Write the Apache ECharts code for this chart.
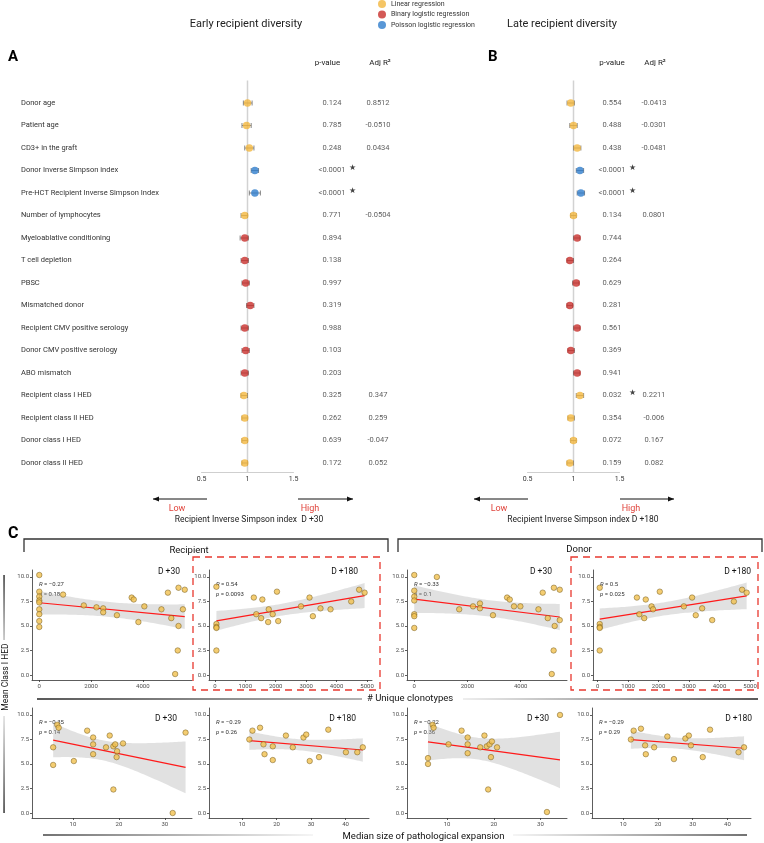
<!DOCTYPE html>
<html><head><meta charset="utf-8">
<script src="https://cdn.jsdelivr.net/npm/echarts@6/dist/echarts.min.js"></script>
<style>html,body{margin:0;padding:0;background:#fff}#c{width:764px;height:843px}</style>
</head><body><div id="c"></div>
<script>
// ---------------- DATA ----------------
const rowLabels = ['Donor age','Patient age','CD3+ in the graft','Donor Inverse Simpson index','Pre-HCT Recipient Inverse Simpson Index','Number of lymphocytes','Myeloablative conditioning','T cell depletion','PBSC','Mismatched donor','Recipient CMV positive serology','Donor CMV positive serology','ABO mismatch','Recipient class I HED','Recipient class II HED','Donor class I HED','Donor class II HED'];
const regressionNames = ['Linear regression','Binary logistic regression','Poisson logistic regression'];
const rowType = [0,0,0,2,2,0,1,1,1,1,1,1,1,0,0,0,0];

const earlyEst = [1.00,0.99,1.02,1.08,1.08,0.97,0.97,0.97,0.98,1.03,0.97,0.98,0.97,0.96,0.97,0.97,0.97];
const earlyLo  = [0.955,0.94,0.97,1.04,1.02,0.93,0.92,0.93,0.94,0.99,0.93,0.94,0.93,0.93,0.94,0.94,0.94];
const earlyHi  = [1.05,1.04,1.07,1.12,1.14,1.00,1.01,1.01,1.02,1.07,1.01,1.02,1.01,1.00,1.00,1.00,1.00];
const earlyP   = ['0.124','0.785','0.248','<0.0001','<0.0001','0.771','0.894','0.138','0.997','0.319','0.988','0.103','0.203','0.325','0.262','0.639','0.172'];
const earlyAdjR2 = ['0.8512','-0.0510','0.0434','','','-0.0504','','','','','','','','0.347','0.259','-0.047','0.052'];
const earlySig = [3,4];

const lateEst = [0.97,1.00,1.04,1.07,1.08,1.00,1.04,0.96,1.03,0.96,1.04,0.97,1.04,1.07,0.97,1.00,0.96];
const lateLo  = [0.93,0.96,1.00,1.03,1.04,0.97,1.00,0.93,0.99,0.93,1.00,0.94,1.00,1.03,0.94,0.97,0.93];
const lateHi  = [1.01,1.04,1.08,1.11,1.12,1.03,1.07,1.00,1.06,0.99,1.07,1.01,1.07,1.11,1.01,1.03,1.00];
const lateP   = ['0.554','0.488','0.438','<0.0001','<0.0001','0.134','0.744','0.264','0.629','0.281','0.561','0.369','0.941','0.032','0.354','0.072','0.159'];
const lateAdjR2 = ['-0.0413','-0.0301','-0.0481','','','0.0801','','','','','','','','0.2211','-0.006','0.167','0.082'];
const lateSig = [3,4,13];

const forestTicks = [0.5, 1, 1.5];

// Panel C scatter data: [x, mean class I HED]
const recipD30Clono = [[0,10.2],[0,8.5],[0,8.0],[0,7.6],[0,7.4],[0,6.7],[0,6.2],[0,5.5],[0,4.9],[920,8.2],[1720,7.1],[2210,6.9],[2470,6.8],[2470,6.4],[3000,6.1],[3570,7.9],[3650,7.7],[3830,5.4],[4060,7.0],[4720,6.7],[4970,8.4],[5100,5.8],[5380,5.0],[5380,8.9],[5620,8.7],[5550,6.7],[5350,2.5],[5250,0.1]];
const recipD180Clono = [[50,9.0],[50,5.2],[50,4.9],[50,4.8],[50,2.5],[1280,7.9],[1360,6.2],[1560,7.7],[1520,5.8],[1770,6.7],[1750,5.4],[1900,6.2],[2040,8.5],[2080,5.5],[2830,7.0],[3110,7.9],[3220,6.0],[3470,6.8],[3800,6.7],[4480,7.5],[4740,8.7],[4920,8.4]];
const donorD30Clono = [[0,10.2],[0,8.6],[0,8.0],[0,7.6],[0,6.2],[0,6.0],[0,4.8],[850,10.0],[1690,6.7],[2210,7.0],[2470,7.3],[2470,6.8],[2960,6.1],[3490,7.9],[3590,7.7],[3750,7.0],[3990,7.0],[4670,6.7],[4830,8.4],[5020,5.8],[5250,8.9],[5280,5.0],[5240,2.5],[5170,0.1],[5470,8.7],[5470,5.6]];
const donorD180Clono = [[70,8.9],[70,5.2],[70,4.9],[70,4.8],[70,2.5],[1290,7.9],[1370,6.2],[1530,5.8],[1580,7.7],[1770,7.0],[1820,6.7],[2040,8.5],[2830,7.0],[3100,7.9],[3220,6.1],[3430,6.8],[3760,5.6],[4470,7.5],[4740,8.7],[4890,8.4]];
const recipD30Exp = [[6.6,9.0],[6.9,8.7],[5.7,6.7],[10.2,5.3],[5.7,4.9],[13.1,8.4],[14.4,7.7],[14.4,7.0],[14.4,6.0],[18.0,7.9],[17.2,6.7],[18.8,6.8],[19.2,7.0],[19.6,6.3],[19.5,5.7],[20.9,7.1],[34.5,8.2],[18.8,2.4],[31.7,0.0]];
const recipD180Exp = [[12.1,7.5],[13.0,8.4],[15.2,8.7],[16.2,7.0],[16.5,6.0],[18.9,6.8],[18.9,5.4],[22.7,7.9],[24.7,6.7],[27.8,7.7],[28.6,8.0],[29.6,5.3],[32.3,5.7],[35.0,8.5],[40.1,6.2],[43.4,6.2],[45.0,6.7]];
const donorD30Exp = [[6.9,9.0],[7.1,8.7],[5.9,5.6],[5.9,5.0],[10.3,7.0],[13.1,8.4],[14.4,7.7],[14.4,7.0],[14.4,6.1],[17.1,6.7],[18.0,7.9],[18.5,6.8],[19.1,7.0],[19.6,7.3],[19.4,5.7],[20.7,6.7],[34.2,10.0],[18.8,2.4],[31.4,0.1]];
const donorD180Exp = [[12.2,7.5],[13.0,8.4],[15.1,8.6],[16.3,6.9],[16.5,6.0],[18.9,6.7],[22.7,7.8],[24.6,5.5],[27.9,7.6],[28.9,7.9],[29.5,6.9],[32.9,5.7],[35.0,8.5],[43.2,6.2],[44.8,6.7]];

const scatterTitles = ['D +30','D +180','D +30','D +180','D +30','D +180','D +30','D +180'];
const corrR = ['\u22120.27','0.54','\u22120.33','0.5','\u22120.35','\u22120.29','\u22120.22','\u22120.29'];
const corrP = ['0.18','0.0093','0.1','0.025','0.14','0.26','0.36','0.29'];
const clonoTicks = [0,2000,4000];
const clonoTicksFine = [0,1000,2000,3000,4000,5000];
const expTicks = [10,20,30];
const expTicksWide = [10,20,30,40];
const hedTicks = [0,2.5,5,7.5,10];

// ---------------- LAYOUT ----------------
const FONT = 'Roboto';
const colors = ['#f3b63f','#c8302c','#2f7dcc'];
const scatterSets = [recipD30Clono, recipD180Clono, donorD30Clono, donorD180Clono, recipD30Exp, recipD180Exp, donorD30Exp, donorD180Exp];
const scatterLayout = [
  {l:32,r:192,t:570,b:680,min:-281,max:5901,ticks:clonoTicks,tx:180},
  {l:209,r:372,t:570,b:680,min:-193,max:5163,ticks:clonoTicksFine,tx:358},
  {l:407,r:567,t:570,b:680,min:-273,max:5743,ticks:clonoTicks,tx:552},
  {l:593,r:754,t:570,b:680,min:-150,max:5131,ticks:clonoTicksFine,tx:751},
  {l:32,r:192,t:708,b:818,min:1.1,max:35.9,ticks:expTicks,tx:177},
  {l:209,r:369,t:708,b:818,min:0.4,max:46.8,ticks:expTicksWide,tx:356},
  {l:407,r:567,t:708,b:818,min:1.4,max:35.7,ticks:expTicks,tx:549},
  {l:592,r:751,t:708,b:818,min:1.0,max:46.8,ticks:expTicksWide,tx:752}
];

function linFit(pts){
  const n = pts.length;
  let mx=0,my=0; pts.forEach(p=>{mx+=p[0];my+=p[1];}); mx/=n; my/=n;
  let sxx=0,sxy=0; pts.forEach(p=>{sxx+=(p[0]-mx)**2; sxy+=(p[0]-mx)*(p[1]-my);});
  const b = sxy/sxx, a = my-b*mx;
  let sse=0; pts.forEach(p=>{sse+=(p[1]-a-b*p[0])**2;});
  const df = n-2, s = Math.sqrt(sse/df), z = 1.959964;
  const t = z + (z**3+z)/(4*df) + (5*z**5+16*z**3+3*z)/(96*df*df);
  const xs = pts.map(p=>p[0]); const x0 = Math.min(...xs), x1 = Math.max(...xs);
  const band = [];
  for(let k=0;k<=60;k++){
    const x = x0 + (x1-x0)*k/60, y = a+b*x;
    const se = s*Math.sqrt(1/n + (x-mx)**2/sxx);
    band.push([x, y-t*se, y+t*se]);
  }
  return {line:[[x0,a+b*x0],[x1,a+b*x1]], band};
}

const grids = [], xAxes = [], yAxes = [], series = [], graphics = [];

// ---- forest plots ----
const forestTop = 80.5, forestH = 391.5, rowMin = -1, rowMax = 16.4;
function forestPanel(est, lo, hi, pv, adj, sig, left, tableLeft, showLabels){
  const gi = grids.length;
  grids.push({left:left, top:forestTop, width:92, height:forestH});
  grids.push({left:tableLeft, top:forestTop, width:100, height:forestH});
  xAxes.push({gridIndex:gi, type:'value', min:0.5, max:1.5, interval:0.5,
    axisLine:{onZero:false, lineStyle:{color:'#cfcfcf', width:1}}, axisTick:{show:false}, splitLine:{show:false},
    axisLabel:{fontSize:7, color:'#333', margin:4, fontFamily:FONT, formatter:v=>String(v)}});
  xAxes.push({gridIndex:gi+1, type:'value', min:0, max:100, show:false});
  const yBase = {type:'value', inverse:true, min:rowMin, max:rowMax, splitLine:{show:false}, axisLine:{show:false, onZero:false}, axisTick:{show:false}};
  yAxes.push(Object.assign({gridIndex:gi}, yBase, {axisLabel:{show:showLabels, customValues:rowLabels.map((_,i)=>i),
    formatter:v=>rowLabels[v]||'', align:'left', margin:left-21, fontSize:7.5, color:'#333', fontFamily:FONT}}));
  yAxes.push(Object.assign({gridIndex:gi+1}, yBase, {axisLabel:{show:false}}));
  const xi = xAxes.length-2, yi = yAxes.length-2;
  // reference line at 1
  series.push({type:'line', xAxisIndex:xi, yAxisIndex:yi, z:0, silent:true, symbol:'none',
    data:[[1,rowMin],[1,rowMax]], lineStyle:{color:'#d2d2d2', width:1.5}});
  series.push({type:'custom', xAxisIndex:xi, yAxisIndex:yi, z:1, silent:true,
    data: est.map((e,i)=>[lo[i],hi[i],i]), encode:{x:[0,1], y:2},
    renderItem:(params, api)=>{
      const a = api.coord([api.value(0), api.value(2)]), b = api.coord([api.value(1), api.value(2)]);
      const st = {stroke:'#6a6a6a', lineWidth:0.8};
      return {type:'group', children:[
        {type:'line', shape:{x1:a[0],y1:a[1],x2:b[0],y2:b[1]}, style:st},
        {type:'line', shape:{x1:a[0],y1:a[1]-2.5,x2:a[0],y2:a[1]+2.5}, style:st},
        {type:'line', shape:{x1:b[0],y1:b[1]-2.5,x2:b[0],y2:b[1]+2.5}, style:st}]};
    }
  });
  regressionNames.forEach((nm, t)=>{
    series.push({type:'scatter', name:nm, xAxisIndex:xi, yAxisIndex:yi, z:3, symbolSize:7.5,
      itemStyle:{color:colors[t]},
      data: est.map((e,i)=>rowType[i]===t?[e,i]:null).filter(d=>d)});
  });
  const tableLabel = (arr)=>({show:true, position:'inside', color:'#333', fontSize:7.5, fontFamily:FONT, formatter:p=>arr[p.dataIndex]});
  series.push({type:'scatter', xAxisIndex:xi+1, yAxisIndex:yi+1, symbolSize:1, itemStyle:{color:'transparent'}, silent:true,
    data: pv.map((_,i)=>[32,i]), label: tableLabel(pv)});
  series.push({type:'scatter', xAxisIndex:xi+1, yAxisIndex:yi+1, symbolSize:1, itemStyle:{color:'transparent'}, silent:true,
    data: adj.map((_,i)=>[tableLeft===300?78:74,i]), label: tableLabel(adj)});
  series.push({type:'scatter', xAxisIndex:xi+1, yAxisIndex:yi+1, symbolSize:1, itemStyle:{color:'transparent'}, silent:true,
    data: sig.map(i=>[52,i-0.1]), label:{show:true, position:'inside', color:'#111', fontSize:8, formatter:'\u2605'}});
}
forestPanel(earlyEst, earlyLo, earlyHi, earlyP, earlyAdjR2, earlySig, 201.5, 300, true);
forestPanel(lateEst, lateLo, lateHi, lateP, lateAdjR2, lateSig, 527.5, 580, false);

// ---- scatter plots ----
scatterLayout.forEach((L, k)=>{
  const gi = grids.length;
  grids.push({left:L.l, top:L.t, width:L.r-L.l, height:L.b-L.t});
  xAxes.push({gridIndex:gi, type:'value', min:L.min, max:L.max, axisLine:{onZero:false, lineStyle:{color:'#333', width:0.8}},
    axisTick:{show:true, length:2, lineStyle:{color:'#333', width:0.8}, customValues:L.ticks},
    axisLabel:{fontSize:6, color:'#4d4d4d', margin:3, fontFamily:FONT, customValues:L.ticks, formatter:v=>String(v)}, splitLine:{show:false}});
  yAxes.push({gridIndex:gi, type:'value', min:-0.51, max:10.71, axisLine:{show:true, onZero:false, lineStyle:{color:'#333', width:0.8}},
    axisTick:{show:true, length:2, lineStyle:{color:'#333', width:0.8}, customValues:hedTicks},
    axisLabel:{fontSize:6, color:'#4d4d4d', margin:3, fontFamily:FONT, customValues:hedTicks, formatter:v=>v.toFixed(1)}, splitLine:{show:false}});
  const xi = xAxes.length-1, yi = yAxes.length-1;
  const pts = scatterSets[k];
  const f = linFit(pts);
  series.push({type:'custom', xAxisIndex:xi, yAxisIndex:yi, z:1, silent:true, clip:true,
    data:f.band, encode:{x:0, y:[1,2]},
    renderItem:(params, api)=>{
      if(params.dataIndexInside!==0) return null;
      const up = f.band.map(b=>api.coord([b[0], b[2]]));
      const dn = f.band.map(b=>api.coord([b[0], b[1]])).reverse();
      return {type:'polygon', shape:{points:up.concat(dn)}, style:{fill:'rgba(175,175,175,0.38)'}};
    }});
  series.push({type:'line', xAxisIndex:xi, yAxisIndex:yi, z:2, silent:true, symbol:'none', data:f.line,
    lineStyle:{color:'#ff1a1a', width:1.2}});
  series.push({type:'scatter', xAxisIndex:xi, yAxisIndex:yi, z:3, silent:true, symbolSize:5.5, data:pts,
    itemStyle:{color:'#f1c04f', borderColor:'#6b5316', borderWidth:0.6}});
  const tY = k<4 ? 572 : 719;
  graphics.push({type:'text', x:L.tx, y:tY, style:{text:scatterTitles[k], fill:'#111', fontSize:8.5, fontFamily:FONT, align:'right', verticalAlign:'middle'}});
  const rich = {i:{fontStyle:'italic', fontSize:6, fontFamily:FONT, fill:'#333'}};
  graphics.push({type:'text', x:L.l+7, y:L.t+14, style:{text:'{i|R} = '+corrR[k], rich, fill:'#333', fontSize:6, fontFamily:FONT, align:'left', verticalAlign:'middle'}});
  graphics.push({type:'text', x:L.l+7, y:L.t+24, style:{text:'{i|p} = '+corrP[k], rich, fill:'#333', fontSize:6, fontFamily:FONT, align:'left', verticalAlign:'middle'}});
});

// ---- annotations ----
function txt(x,y,t,o){ graphics.push({type:'text', x, y, style:Object.assign({text:t, fill:'#222', fontSize:8, fontFamily:FONT, align:'center', verticalAlign:'middle'}, o||{})}); }
txt(246,24,'Early recipient diversity',{fontSize:11});
txt(562,24,'Late recipient diversity',{fontSize:11});
txt(8,57,'A',{fontSize:15, fontWeight:'bold', align:'left', fill:'#000'});
txt(488,57,'B',{fontSize:15, fontWeight:'bold', align:'left', fill:'#000'});
txt(8,534,'C',{fontSize:16, fontWeight:'bold', align:'left', fill:'#000'});
txt(327.5,63,'p-value'); txt(380,63,'Adj R\u00b2');
txt(612,63,'p-value'); txt(655,63,'Adj R\u00b2');

function arrow(x1,x2,y){
  graphics.push({type:'line', shape:{x1,y1:y,x2,y2:y}, style:{stroke:'#111', lineWidth:1}});
  const d = x2<x1 ? 6 : -6;
  graphics.push({type:'polygon', shape:{points:[[x2,y],[x2+d,y-2.5],[x2+d,y+2.5]]}, style:{fill:'#111'}});
}
arrow(207,153,499); arrow(298,353,499);
arrow(528,474,499); arrow(620,674,499);
txt(177,509,'Low',{fill:'#e0443c', fontSize:9});
txt(310,509,'High',{fill:'#e0443c', fontSize:9});
txt(249,520,'Recipient Inverse Simpson index  D +30',{fontSize:8.5});
txt(499,509,'Low',{fill:'#e0443c', fontSize:9});
txt(631,509,'High',{fill:'#e0443c', fontSize:9});
txt(583,520,'Recipient Inverse Simpson index D +180',{fontSize:8.5});

// brackets
graphics.push({type:'polyline', shape:{points:[[24,552],[24,539],[388,539],[388,552]]}, style:{stroke:'#333', lineWidth:1.3, fill:null}});
graphics.push({type:'polyline', shape:{points:[[398,552],[398,539],[762,539],[762,552]]}, style:{stroke:'#333', lineWidth:1.3, fill:null}});
txt(189,551,'Recipient',{fontSize:9.5, fill:'#111'});
txt(579,550,'Donor',{fontSize:9.5, fill:'#111'});
// dashed boxes
[[193,557,187,133],[571,557,187,133]].forEach(r=>graphics.push({type:'rect', shape:{x:r[0],y:r[1],width:r[2],height:r[3]}, style:{fill:null, stroke:'#e8382f', lineWidth:1.3, lineDash:[7,5]}, z:10}));

// gradient rules
function grad(x,y,w,h,dir,c0,c1){
  const g = dir==='h' ? new echarts.graphic.LinearGradient(0,0,1,0,[{offset:0,color:c0},{offset:1,color:c1}])
                      : new echarts.graphic.LinearGradient(0,0,0,1,[{offset:0,color:c0},{offset:1,color:c1}]);
  graphics.push({type:'rect', shape:{x,y,width:w,height:h}, style:{fill:g}});
}
grad(37,698.3,325,1.5,'h','#222','#9a9a9a');
grad(463,698.3,295,1.5,'h','#e8e8e8','#222');
txt(367,699,'# Unique clonotypes',{fontSize:9.5, align:'left', fill:'#111'});
grad(43,834.3,270,1.5,'h','#444','#f2f2f2');
grad(513,834.3,234,1.5,'h','#f2f2f2','#444');
txt(423.5,837,'Median size of pathological expansion',{fontSize:9.5, fill:'#111'});
grad(3.3,575,1.5,65,'v','#333','#bbb');
grad(3.3,716,1.5,97,'v','#ddd','#333');
graphics.push({type:'text', x:6, y:677, rotation:Math.PI/2, style:{text:'Mean Class I HED', fill:'#111', fontSize:8.5, fontFamily:FONT, align:'center', verticalAlign:'middle'}});

const chart = echarts.init(document.getElementById('c'), null, {renderer:'canvas'});
chart.setOption({
  animation:false,
  backgroundColor:'#fff',
  textStyle:{fontFamily:FONT},
  legend:{data:regressionNames, orient:'vertical', left:378, top:0, padding:0, itemWidth:8, itemHeight:8, itemGap:2.5, icon:'circle',
    textStyle:{fontSize:7, color:'#333', fontFamily:FONT}},
  grid:grids, xAxis:xAxes, yAxis:yAxes, series, graphic:graphics
});
</script></body></html>
